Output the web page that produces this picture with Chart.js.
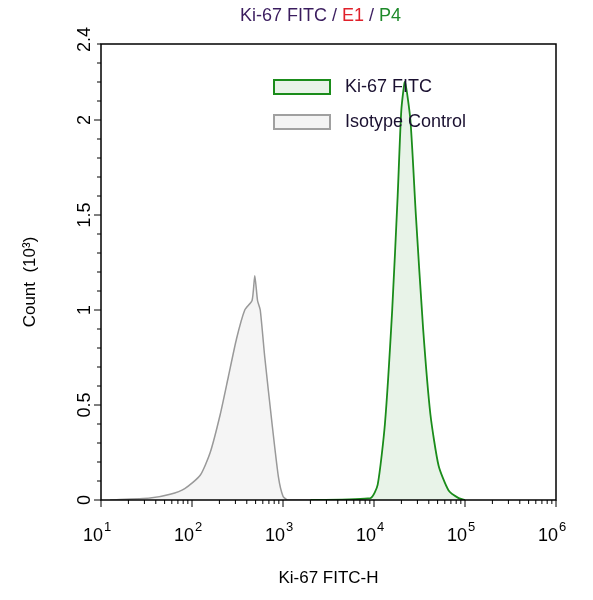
<!DOCTYPE html>
<html><head><meta charset="utf-8">
<script src="https://cdn.jsdelivr.net/npm/chart.js@4"></script>
<style>body{margin:0;background:#fff}#w{width:593px;height:600px}</style>
</head><body><div id="w"><canvas id="c"></canvas></div>
<script>
const isoLog = [1.1,1.54,1.76,1.92,2.09,2.2,2.31,2.4,2.49,2.58,2.66,2.69,2.72,2.75,2.8,2.88,2.95,3.0,3.05,3.3];
const isoVal = [0,0.01,0.03,0.06,0.13,0.25,0.45,0.65,0.85,1.0,1.05,1.18,1.05,1.0,0.75,0.4,0.12,0.02,0,0];
const kiLog = [3.3,3.96,4.04,4.12,4.2,4.26,4.3,4.34,4.4,4.46,4.54,4.62,4.71,4.82,4.93,5.0];
const kiVal = [0,0.01,0.08,0.4,1.0,1.6,2.05,2.2,2.0,1.5,0.9,0.45,0.18,0.05,0.01,0];
const xTicks = [1,2,3,4,5,6];
const yTicks = [0,0.5,1,1.5,2,2.4];
const yTickLabels = ['0','0.5','1','1.5','2','2.4'];
const F = '"Liberation Sans", Arial, sans-serif';
const toPts = (l,v)=>l.map((e,i)=>({x:Math.pow(10,e),y:v[i]}));
const deco = {id:'deco', afterDraw(ch){
  const c=ch.ctx, a=ch.chartArea, xs=ch.scales.x, ys=ch.scales.y;
  c.save(); c.strokeStyle='#000'; c.lineWidth=1.5;
  c.strokeRect(a.left,a.top,a.right-a.left,a.bottom-a.top);
  c.lineWidth=1; c.fillStyle='#000';
  xTicks.forEach(d=>{
    const p=xs.getPixelForValue(Math.pow(10,d));
    c.beginPath(); c.moveTo(p,a.bottom); c.lineTo(p,a.bottom+7); c.stroke();
    c.font='18px '+F; c.textAlign='right'; c.textBaseline='top';
    c.fillText('10',p+2,a.bottom+27);
    c.font='13px '+F; c.textAlign='left';
    c.fillText(String(d),p+3,a.bottom+21);
    if(d<6) for(let k=2;k<=9;k++){
      const q=xs.getPixelForValue(k*Math.pow(10,d));
      c.beginPath(); c.moveTo(q,a.bottom); c.lineTo(q,a.bottom+4); c.stroke();
    }
  });
  for(let v=0; v<=2.4001; v+=0.1){
    const p=ys.getPixelForValue(v); const major=Math.abs(v*2-Math.round(v*2))<1e-6;
    c.beginPath(); c.moveTo(a.left,p); c.lineTo(a.left-(major?7:4),p); c.stroke();
  }
  yTicks.forEach((v,i)=>{
    const p=ys.getPixelForValue(v);
    c.save(); c.translate(a.left-7,p); c.rotate(-Math.PI/2);
    c.font='18px '+F; c.textAlign=(v===2.4?'left':'center'); c.textBaseline='bottom';
    c.fillText(yTickLabels[i],v===2.4?-8:0,0); c.restore();
  });
  c.font='17px '+F; c.textAlign='center'; c.textBaseline='middle';
  c.fillText('Ki-67 FITC-H',(a.left+a.right)/2,578);
  c.save(); c.translate(30,(a.top+a.bottom)/2+10); c.rotate(-Math.PI/2);
  c.fillText('Count  (10³)',0,0); c.restore();
  c.font='18px '+F; c.textAlign='left'; c.textBaseline='middle';
  const parts=[['Ki-67 FITC ','#3a1c5e'],['/ ','#3a1c5e'],['E1','#e0202a'],[' / ','#3a1c5e'],['P4','#1e8a2a']];
  let tw=parts.reduce((s,p)=>s+c.measureText(p[0]).width,0), x=(a.left+a.right)/2-tw/2-8;
  parts.forEach(p=>{c.fillStyle=p[1]; c.fillText(p[0],x,16); x+=c.measureText(p[0]).width;});
  const leg=[['Ki-67 FITC','#1a8c1a','rgba(26,140,26,0.1)'],['Isotype Control','#a0a0a0','rgba(200,200,200,0.2)']];
  leg.forEach((l,i)=>{
    const y=87+i*35;
    c.fillStyle=l[2]; c.fillRect(274,y-7,56,14);
    c.strokeStyle=l[1]; c.lineWidth=2; c.strokeRect(274,y-7,56,14);
    c.fillStyle='#1a1030'; c.font='18px '+F; c.fillText(l[0],345,y);
  });
  c.restore();
}};
new Chart(document.getElementById('c'),{
  type:'scatter',
  data:{datasets:[
    {label:'Isotype Control',data:toPts(isoLog,isoVal),showLine:true,borderColor:'#999',borderWidth:1.5,backgroundColor:'rgba(200,200,200,0.18)',fill:'origin',pointRadius:0,tension:0.2},
    {label:'Ki-67 FITC',data:toPts(kiLog,kiVal),showLine:true,borderColor:'#1a8c1a',borderWidth:1.8,backgroundColor:'rgba(26,140,26,0.1)',fill:'origin',pointRadius:0,tension:0.2}
  ]},
  options:{responsive:true,maintainAspectRatio:false,animation:false,
    layout:{padding:{left:101,right:37,top:44,bottom:100}},
    plugins:{legend:{display:false},tooltip:{enabled:false}},
    scales:{
      x:{type:'logarithmic',min:10,max:1e6,display:false},
      y:{min:0,max:2.4,display:false}
    }},
  plugins:[deco]
});
</script></body></html>
